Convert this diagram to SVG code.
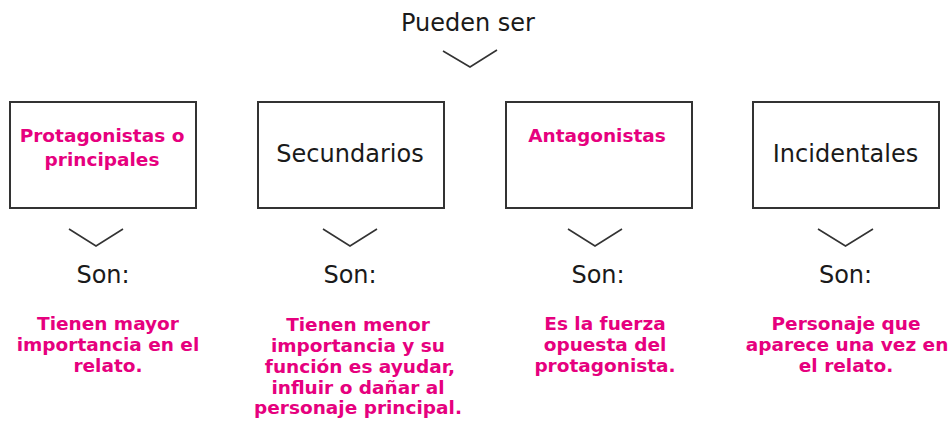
<svg xmlns="http://www.w3.org/2000/svg" width="951" height="422" viewBox="0 0 951 422">
<style>
  .box { fill: #fff; stroke: #333; stroke-width: 2; }
  .chev { fill: none; stroke: #333; stroke-width: 1.6; }
  .reg { font-family: "DejaVu Sans", "Liberation Sans", sans-serif; font-size: 24px; fill: #1a1a1a; text-anchor: middle; }
  .pk { font-family: "DejaVu Sans", "Liberation Sans", sans-serif; font-size: 18.5px; font-weight: bold; fill: #E6007E; text-anchor: middle; }
</style>
<rect width="951" height="422" fill="#fff"/>
<g id="root">
  <text class="reg" x="468" y="31">Pueden ser</text>
</g>
<g id="connectors">
  <polyline class="chev" points="443,51 470,67 497,50"/>
  <polyline class="chev" points="69,229 96,246 123,229"/>
  <polyline class="chev" points="323,229 350,246 377,229"/>
  <polyline class="chev" points="568,229 595,246 622,229"/>
  <polyline class="chev" points="818,229 845.5,246 873,229"/>
</g>
<g id="node-protagonistas">
  <rect class="box" x="10" y="102" width="186" height="106"/>
  <text class="pk" x="102" y="142">Protagonistas o</text>
  <text class="pk" x="102" y="166">principales</text>
</g>
<g id="node-secundarios">
  <rect class="box" x="258" y="102" width="186" height="106"/>
  <text class="reg" x="350" y="162">Secundarios</text>
</g>
<g id="node-antagonistas">
  <rect class="box" x="506" y="102" width="186" height="106"/>
  <text class="pk" x="597" y="142">Antagonistas</text>
</g>
<g id="node-incidentales">
  <rect class="box" x="753" y="102" width="186" height="106"/>
  <text class="reg" x="845.5" y="162">Incidentales</text>
</g>
<g id="son-1">
  <text class="reg" x="103" y="283">Son:</text>
  <text class="pk" x="108" y="330">Tienen mayor</text>
  <text class="pk" x="108" y="351">importancia en el</text>
  <text class="pk" x="108" y="372">relato.</text>
</g>
<g id="son-2">
  <text class="reg" x="350" y="283">Son:</text>
  <text class="pk" x="358" y="330.5">Tienen menor</text>
  <text class="pk" x="358" y="351.5">importancia y su</text>
  <text class="pk" x="360" y="372.5">función es ayudar,</text>
  <text class="pk" x="358" y="393.5">influir o dañar al</text>
  <text class="pk" x="358" y="414">personaje principal.</text>
</g>
<g id="son-3">
  <text class="reg" x="598" y="283">Son:</text>
  <text class="pk" x="605" y="330">Es la fuerza</text>
  <text class="pk" x="605" y="351">opuesta del</text>
  <text class="pk" x="605" y="372">protagonista.</text>
</g>
<g id="son-4">
  <text class="reg" x="845.5" y="283">Son:</text>
  <text class="pk" x="846" y="330">Personaje que</text>
  <text class="pk" x="847" y="351">aparece una vez en</text>
  <text class="pk" x="846" y="372">el relato.</text>
</g>
</svg>
